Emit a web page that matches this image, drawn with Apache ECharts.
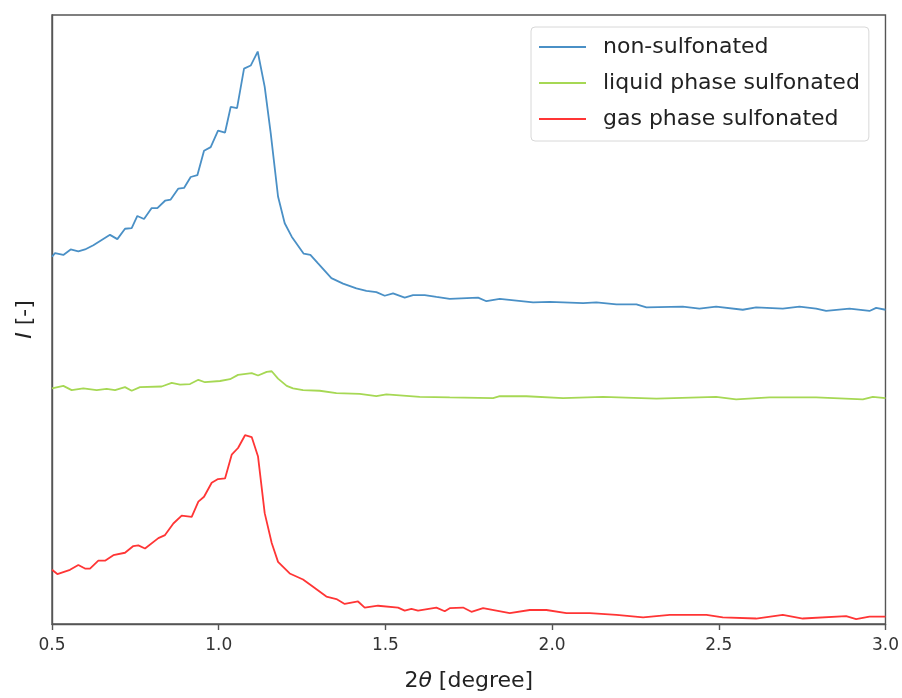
<!DOCTYPE html>
<html><head><meta charset="utf-8">
<script src="https://cdn.jsdelivr.net/npm/echarts@6/dist/echarts.min.js"></script>
<style>html,body{margin:0;padding:0;background:#fff}#c{width:902px;height:698px}</style>
</head><body><div id="c"></div>
<script>
const seriesNames = ['non-sulfonated', 'liquid phase sulfonated', 'gas phase sulfonated'];
const xTicks = [0.5, 1.0, 1.5, 2.0, 2.5, 3.0];

const nonSulfonated = [
[0.5,60.3],[0.509,60.9],[0.534,60.6],[0.556,61.5],[0.579,61.2],[0.599,61.5],[0.624,62.2],[0.674,63.9],[0.696,63.2],
[0.719,64.9],[0.739,65.0],[0.756,67.0],[0.776,66.5],[0.799,68.3],[0.816,68.3],[0.839,69.5],[0.856,69.7],[0.879,71.5],
[0.896,71.6],[0.916,73.4],[0.936,73.7],[0.956,77.7],[0.976,78.3],[0.998,81.0],[1.019,80.7],[1.036,84.9],[1.055,84.7],
[1.076,91.2],[1.096,91.7],[1.117,94.0],[1.138,88.2],[1.156,80.6],[1.178,70.2],[1.198,65.8],[1.219,63.6],[1.255,60.8],
[1.275,60.6],[1.298,59.2],[1.338,56.8],[1.373,55.9],[1.413,55.1],[1.443,54.7],[1.473,54.5],[1.498,53.9],[1.523,54.3],
[1.558,53.6],[1.583,54.0],[1.618,54.0],[1.653,53.7],[1.693,53.4],[1.778,53.6],[1.803,53.0],[1.843,53.4],[1.943,52.8],
[1.993,52.9],[2.093,52.7],[2.133,52.8],[2.193,52.5],[2.253,52.5],[2.283,52.0],[2.392,52.1],[2.442,51.8],[2.492,52.1],
[2.572,51.6],[2.612,52.0],[2.692,51.8],[2.742,52.1],[2.792,51.8],[2.822,51.4],[2.892,51.8],[2.952,51.4],[2.972,51.9],[3.0,51.6]
];
const liquidPhase = [
[0.5,38.7],[0.534,39.1],[0.559,38.4],[0.594,38.7],[0.634,38.4],[0.664,38.6],[0.689,38.4],[0.719,38.9],[0.739,38.3],
[0.764,38.9],[0.829,39.0],[0.859,39.6],[0.884,39.3],[0.914,39.4],[0.939,40.1],[0.959,39.7],[1.004,39.9],[1.034,40.2],
[1.058,40.9],[1.099,41.2],[1.118,40.8],[1.144,41.4],[1.159,41.5],[1.178,40.3],[1.204,39.1],[1.223,38.7],[1.253,38.4],
[1.303,38.3],[1.353,37.9],[1.423,37.8],[1.473,37.4],[1.503,37.7],[1.603,37.3],[1.693,37.2],[1.823,37.1],[1.843,37.4],
[1.923,37.4],[2.033,37.1],[2.153,37.3],[2.313,37.0],[2.492,37.3],[2.552,36.9],[2.652,37.2],[2.792,37.2],[2.932,36.9],
[2.962,37.3],[3.0,37.1]
];
const gasPhase = [
[0.5,8.9],[0.516,8.2],[0.554,8.9],[0.579,9.7],[0.599,9.1],[0.614,9.1],[0.639,10.4],[0.659,10.4],[0.684,11.3],[0.719,11.7],
[0.744,12.8],[0.759,12.9],[0.779,12.4],[0.819,14.1],[0.839,14.6],[0.864,16.5],[0.889,17.8],[0.919,17.6],[0.939,20.1],
[0.956,20.9],[0.979,23.2],[0.998,23.8],[1.019,23.9],[1.039,27.8],[1.058,28.9],[1.079,31.0],[1.099,30.7],[1.118,27.5],
[1.138,18.2],[1.159,13.3],[1.178,10.2],[1.213,8.3],[1.253,7.3],[1.283,6.1],[1.323,4.5],[1.353,4.1],[1.378,3.3],[1.418,3.7],
[1.438,2.7],[1.478,3.0],[1.538,2.7],[1.558,2.2],[1.578,2.5],[1.598,2.2],[1.653,2.7],[1.678,2.1],[1.693,2.6],[1.733,2.7],
[1.758,2.0],[1.793,2.6],[1.873,1.8],[1.933,2.3],[1.983,2.3],[2.043,1.8],[2.113,1.8],[2.193,1.5],[2.273,1.1],[2.353,1.5],
[2.463,1.5],[2.512,1.1],[2.612,0.9],[2.692,1.5],[2.752,0.9],[2.882,1.3],[2.912,0.8],[2.952,1.2],[3.0,1.2]
];

const colors = ['#4a90c6', '#a6d854', '#ff3535'];
const font = 'DejaVu Sans';
const chart = echarts.init(document.getElementById('c'), null, {renderer: 'canvas'});
const mk = (name, data, color) => ({
  name, type: 'line', data, symbol: 'none', smooth: false, animation: false,
  lineStyle: {color, width: 1.8}, itemStyle: {color}
});
chart.setOption({
  animation: false,
  backgroundColor: '#fff',
  grid: {left: 52, right: 16, top: 15, bottom: 74, show: true, borderColor: '#555', borderWidth: 1.4, containLabel: false},
  legend: {
    data: seriesNames, orient: 'vertical', left: 531, top: 27,
    icon: 'rect', itemWidth: 47, itemHeight: 2, itemGap: 12,
    padding: [8, 9, 10, 8],
    borderColor: '#d8d8d8', borderWidth: 1, borderRadius: 4, backgroundColor: '#fff',
    textStyle: {fontFamily: font, fontSize: 22, color: '#222', lineHeight: 24, padding: [0, 0, 0, 12]}
  },
  xAxis: {
    type: 'value', min: 0.5, max: 3.0, interval: 0.5,
    name: '2{i|θ} [degree]', nameLocation: 'middle', nameGap: 46,
    nameTextStyle: {fontFamily: font, fontSize: 22, color: '#222', rich: {i: {fontFamily: font, fontStyle: 'italic', fontSize: 22, color: '#222'}}},
    axisLine: {show: true, lineStyle: {color: '#555', width: 1.4}},
    axisTick: {show: true, length: 6, lineStyle: {color: '#555', width: 1.4}},
    splitLine: {show: false},
    axisLabel: {fontFamily: font, fontSize: 17, color: '#333', margin: 13,
      formatter: v => { const t = xTicks.find(x => Math.abs(x - v) < 1e-9); return t === undefined ? '' : t.toFixed(1); }}
  },
  yAxis: {
    type: 'value', min: 0, max: 100,
    name: '{i|I} [-]', nameLocation: 'middle', nameGap: 16, nameRotate: 90,
    nameTextStyle: {fontFamily: font, fontSize: 22, color: '#222', rich: {i: {fontFamily: font, fontStyle: 'italic', fontSize: 22, color: '#222'}}},
    axisLine: {show: true, lineStyle: {color: '#555', width: 1.4}},
    axisTick: {show: false}, axisLabel: {show: false}, splitLine: {show: false}
  },
  series: [
    mk(seriesNames[0], nonSulfonated, colors[0]),
    mk(seriesNames[1], liquidPhase, colors[1]),
    mk(seriesNames[2], gasPhase, colors[2])
  ]
});
</script></body></html>
